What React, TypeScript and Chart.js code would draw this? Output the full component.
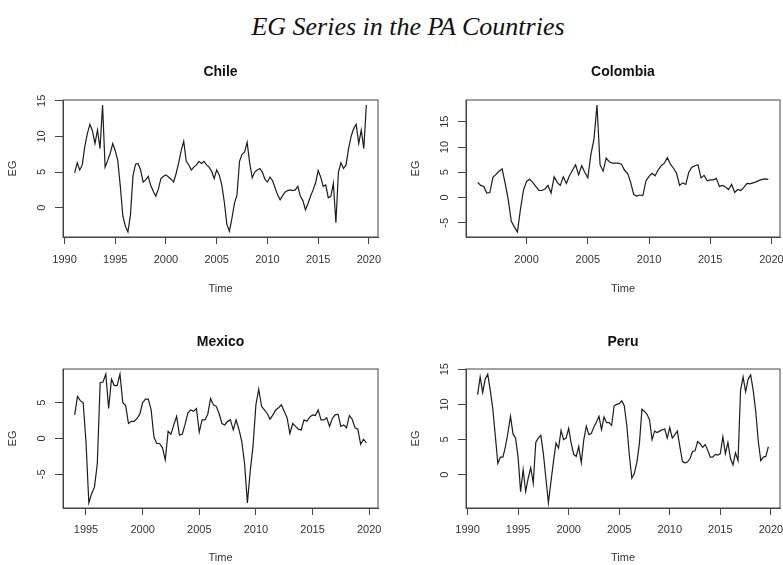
import React, { useEffect, useRef } from "react";
import { Chart, registerables } from "chart.js";

Chart.register(...registerables);

// ---------------- data (quarterly EG values) ----------------
const chileStart = 1991;
const chileEG = [
  4.9, 6.3, 5.3, 6.0,
  8.6, 10.4, 11.7, 10.8,
  9.0, 10.9, 8.3, 14.4,
  5.7, 6.6, 7.6, 9.0,
  8.0, 6.6, 3.0, -1.2,
  -2.6, -3.4, -1.0, 4.5,
  6.1, 6.2, 5.3, 3.6,
  3.9, 4.4, 3.1, 2.3,
  1.6, 2.6, 4.1, 4.4,
  4.6, 4.3, 4.0, 3.6,
  4.8, 6.3, 8.0, 9.3,
  6.5, 6.0, 5.3, 5.7,
  6.0, 6.5, 6.2, 6.5,
  6.0, 5.7, 5.1, 4.1,
  5.3, 4.6, 3.2, 0.8,
  -2.3, -3.3, -1.5, 0.6,
  1.8, 6.5, 7.5, 7.8,
  9.2, 6.3, 4.2, 5.0,
  5.3, 5.5, 5.0, 4.0,
  3.6, 4.3, 3.8, 2.8,
  1.8, 1.1, 1.7, 2.2,
  2.4, 2.5, 2.4, 2.5,
  3.0, 1.6, 1.0, -0.3,
  0.6, 1.6, 2.5, 3.5,
  5.2, 4.3, 3.0, 3.2,
  1.4, 1.6, 3.4, -2.1,
  5.0, 6.3, 5.5, 6.0,
  8.3, 10.0, 11.1, 11.7,
  9.0, 10.9, 8.3, 14.4,
];

const colombiaStart = 1996;
const colombiaEG = [
  3.0, 2.4, 2.2, 0.9,
  1.0, 4.0, 4.6, 5.2,
  5.7, 2.8, -0.4, -4.7,
  -5.8, -6.8, -2.3, 1.5,
  3.2, 3.6, 3.0, 2.2,
  1.4, 1.4, 1.7, 2.4,
  0.9, 4.1, 3.0, 2.4,
  4.1, 2.8, 4.3, 5.4,
  6.5, 4.5, 6.3, 5.0,
  3.9, 8.5, 11.5, 18.3,
  6.5, 5.2, 7.8, 7.1,
  6.8, 6.8, 6.8, 6.6,
  5.4, 4.8, 3.0, 0.6,
  0.3, 0.5, 0.4, 3.3,
  4.2, 4.8, 4.3, 5.5,
  6.3, 6.8, 7.9, 6.6,
  5.8, 4.8, 2.4, 2.9,
  2.6, 5.0, 6.0, 6.3,
  6.5, 3.9, 4.4, 3.3,
  3.5, 3.5, 3.8, 2.2,
  2.4, 2.1, 1.6, 2.6,
  1.0, 1.6, 1.4, 2.0,
  2.8, 2.7, 2.9, 3.1,
  3.4, 3.6, 3.7, 3.6,
];

const mexicoStart = 1994;
const mexicoEG = [
  3.3, 5.9, 5.3, 5.0,
  -0.5, -9.0, -7.7, -6.8,
  -3.5, 7.8, 7.9, 9.0,
  4.2, 8.3, 7.4, 7.4,
  9.0, 5.0, 4.6, 2.1,
  2.4, 2.4, 2.8, 3.4,
  5.0, 5.5, 5.5, 4.0,
  0.2, -0.7, -0.7, -1.3,
  -3.0, 1.0, 0.6, 1.9,
  3.1, 0.5, 0.6, 2.0,
  3.6, 4.0, 3.8, 4.2,
  0.9, 2.6, 2.6, 3.4,
  5.6, 4.7, 4.5, 3.5,
  2.1, 1.9, 2.4, 2.6,
  1.2, 2.6, 1.3, -0.4,
  -3.5, -9.0, -4.6, -1.0,
  4.7, 6.9, 4.5, 4.0,
  3.5, 2.7, 3.3, 4.0,
  4.3, 4.7, 3.8, 2.9,
  0.7, 2.1, 1.7, 1.3,
  1.2, 2.6, 2.4, 3.0,
  3.3, 3.2, 4.0, 2.6,
  2.6, 2.9, 1.7, 2.8,
  3.3, 3.4, 1.7, 1.9,
  1.5, 3.2, 2.7, 1.5,
  1.3, -0.8, -0.1, -0.6,
];

const peruStart = 1991;
const peruEG = [
  11.4, 13.9, 11.7, 13.6,
  14.3, 12.0, 9.4, 5.5,
  1.6, 2.5, 2.5, 4.0,
  6.0, 8.3, 5.8, 5.2,
  2.5, -2.4, 0.7, -2.4,
  -0.5, 1.0, -1.2, 4.6,
  5.2, 5.6, 3.0, -0.5,
  -4.0, -1.0, 1.9, 4.5,
  3.8, 6.3, 5.0, 5.2,
  6.6, 4.5, 2.9, 2.6,
  4.0, 1.7, 5.0, 6.9,
  5.7, 5.9, 6.8, 7.5,
  8.3, 6.4, 8.2, 7.4,
  7.4, 7.0, 9.8, 10.0,
  10.1, 10.5, 9.8, 7.0,
  2.8, -0.5, 0.2, 1.8,
  4.5, 9.3, 9.0, 8.6,
  7.8, 5.0, 6.2, 6.0,
  6.2, 6.4, 6.5, 5.2,
  6.7, 5.2, 5.7, 6.2,
  4.0, 1.9, 1.7, 1.8,
  2.3, 3.3, 3.4, 4.7,
  4.4, 3.9, 4.3, 3.5,
  2.5, 2.5, 2.9, 2.8,
  3.0, 5.4, 3.0, 4.6,
  2.3, 1.4, 3.1, 2.0,
  12.0, 13.9, 11.8, 13.6,
  14.2, 12.0, 9.0, 4.8,
  2.0, 2.5, 2.6, 4.0,
];

// ---------------- tick labels ----------------
const chileXTicks = [1990, 1995, 2000, 2005, 2010, 2015, 2020];
const colombiaXTicks = [2000, 2005, 2010, 2015, 2020];
const mexicoXTicks = [1995, 2000, 2005, 2010, 2015, 2020];
const peruXTicks = [1990, 1995, 2000, 2005, 2010, 2015, 2020];
const chileYTicks = [0, 5, 10, 15];
const colombiaYTicks = [-5, 0, 5, 10, 15];
const mexicoYTicks = [-5, 0, 5];
const peruYTicks = [0, 5, 10, 15];

const mainTitle = "EG Series in the PA Countries";
const xAxisLabel = "Time";
const yAxisLabel = "EG";

// ---------------- layout / style ----------------
const FONT = "'Liberation Sans', Arial, Helvetica, sans-serif";
const TICK_SIZE = 11;
const LINE_H = TICK_SIZE * 1.2;

type Rect = { left: number; top: number; width: number; height: number };
type Box = { left: number; top: number; right: number; bottom: number };
type PanelProps = {
  name: string;
  start: number;
  values: number[];
  xTicks: number[];
  yTicks: number[];
  canvas: Rect;
  area: Box;
  titleGap: number;
  timeY: number;
  xTickPad: number;
  yTickPad: number;
};

function rLimits(lo: number, hi: number): [number, number] {
  const d = (hi - lo) * 0.04;
  return [lo - d, hi + d];
}

const rFrame = {
  id: "rFrame",
  afterDraw(chart: any, _args: any, opts: any) {
    const { ctx, chartArea: a } = chart;
    ctx.save();
    ctx.strokeStyle = opts.color;
    ctx.lineWidth = 1;
    ctx.strokeRect(a.left, a.top, a.right - a.left, a.bottom - a.top);
    ctx.font = `bold 14px ${FONT}`;
    ctx.fillStyle = "#111";
    ctx.textAlign = "center";
    ctx.textBaseline = "middle";
    ctx.fillText(opts.title, (a.left + a.right) / 2, a.top - opts.gap);
    ctx.restore();
  },
};

function Panel(p: PanelProps) {
  const ref = useRef<HTMLCanvasElement>(null);
  useEffect(() => {
    const c = p.canvas;
    const a = p.area;
    const rel = {
      left: a.left - c.left,
      top: a.top - c.top,
      right: a.right - c.left,
      bottom: a.bottom - c.top,
    };
    const times = p.values.map((_, i) => p.start + i / 4);
    const [xmin, xmax] = rLimits(times[0], times[times.length - 1]);
    const [ymin, ymax] = rLimits(Math.min(...p.values), Math.max(...p.values));
    const axisColor = "#444";
    const textColor = "#333";
    const chart = new Chart(ref.current as HTMLCanvasElement, {
      type: "line",
      data: {
        datasets: [
          {
            data: times.map((t, i) => ({ x: t, y: p.values[i] })),
            borderColor: "#1c1c1c",
            borderWidth: 1.2,
            pointRadius: 0,
            tension: 0,
            fill: false,
          },
        ],
      },
      options: {
        animation: false,
        responsive: false,
        devicePixelRatio: 1,
        layout: { padding: { left: 0, top: rel.top, right: c.width - rel.right, bottom: 0 } },
        plugins: {
          legend: { display: false },
          tooltip: { enabled: false },
          rFrame: { title: p.name, gap: p.titleGap, color: axisColor },
        } as any,
        scales: {
          x: {
            type: "linear",
            min: xmin,
            max: xmax,
            afterBuildTicks: (s: any) => {
              s.ticks = p.xTicks.map((v) => ({ value: v }));
            },
            afterFit: (s: any) => {
              s.height = c.height - rel.bottom;
            },
            grid: { drawOnChartArea: false, drawTicks: true, tickLength: 7, color: axisColor },
            border: { display: true, color: axisColor },
            ticks: {
              autoSkip: false,
              maxRotation: 0,
              minRotation: 0,
              padding: p.xTickPad,
              color: textColor,
              font: { family: FONT, size: TICK_SIZE },
              callback: (v: any) => String(v),
            },
            title: {
              display: true,
              text: xAxisLabel,
              color: textColor,
              font: { family: FONT, size: TICK_SIZE },
              padding: { top: 0, bottom: c.top + c.height - p.timeY - LINE_H / 2 },
            },
          },
          y: {
            type: "linear",
            min: ymin,
            max: ymax,
            afterBuildTicks: (s: any) => {
              s.ticks = p.yTicks.map((v) => ({ value: v }));
            },
            afterFit: (s: any) => {
              s.width = rel.left;
            },
            grid: { drawOnChartArea: false, drawTicks: true, tickLength: 8, color: axisColor },
            border: { display: true, color: axisColor },
            ticks: {
              autoSkip: false,
              minRotation: 90,
              maxRotation: 90,
              crossAlign: "center",
              padding: p.yTickPad,
              color: textColor,
              font: { family: FONT, size: TICK_SIZE },
              callback: (v: any) => String(v),
            },
            title: {
              display: true,
              text: yAxisLabel,
              color: textColor,
              font: { family: FONT, size: TICK_SIZE },
              padding: { top: a.left - 50 - c.left - LINE_H / 2, bottom: 0 },
            },
          },
        },
      } as any,
      plugins: [rFrame as any],
    });
    return () => chart.destroy();
  }, []);
  const c = p.canvas;
  return (
    <canvas
      ref={ref}
      width={c.width}
      height={c.height}
      style={{ position: "absolute", left: c.left, top: c.top, width: c.width, height: c.height }}
    />
  );
}

const panels: PanelProps[] = [
  {
    name: "Chile",
    start: chileStart,
    values: chileEG,
    xTicks: chileXTicks,
    yTicks: chileYTicks,
    canvas: { left: 0, top: 50, width: 410, height: 250 },
    area: { left: 63, top: 100, right: 378, bottom: 237 },
    titleGap: 27.5,
    timeY: 289,
    xTickPad: 9.4,
    yTickPad: 7,
  },
  {
    name: "Colombia",
    start: colombiaStart,
    values: colombiaEG,
    xTicks: colombiaXTicks,
    yTicks: colombiaYTicks,
    canvas: { left: 390, top: 50, width: 410, height: 250 },
    area: { left: 466, top: 100, right: 780, bottom: 237 },
    titleGap: 27.5,
    timeY: 289,
    xTickPad: 9.4,
    yTickPad: 7,
  },
  {
    name: "Mexico",
    start: mexicoStart,
    values: mexicoEG,
    xTicks: mexicoXTicks,
    yTicks: mexicoYTicks,
    canvas: { left: 0, top: 318, width: 410, height: 262 },
    area: { left: 63, top: 369, right: 378, bottom: 508 },
    titleGap: 27,
    timeY: 558,
    xTickPad: 8.4,
    yTickPad: 8,
  },
  {
    name: "Peru",
    start: peruStart,
    values: peruEG,
    xTicks: peruXTicks,
    yTicks: peruYTicks,
    canvas: { left: 390, top: 318, width: 410, height: 262 },
    area: { left: 466, top: 369, right: 780, bottom: 508 },
    titleGap: 27,
    timeY: 558,
    xTickPad: 8.4,
    yTickPad: 7,
  },
];

export default function App() {
  return (
    <div
      style={{
        position: "absolute",
        left: 0,
        top: 0,
        width: 783,
        height: 565,
        overflow: "hidden",
        background: "#fff",
      }}
    >
      <div
        style={{
          position: "absolute",
          left: 408,
          top: 12,
          transform: "translateX(-50%)",
          whiteSpace: "nowrap",
          fontFamily: "'Liberation Serif', 'DejaVu Serif', serif",
          fontStyle: "italic",
          fontSize: 26,
          lineHeight: "30px",
          color: "#111",
        }}
      >
        {mainTitle}
      </div>
      {panels.map((p) => (
        <Panel key={p.name} {...p} />
      ))}
    </div>
  );
}
